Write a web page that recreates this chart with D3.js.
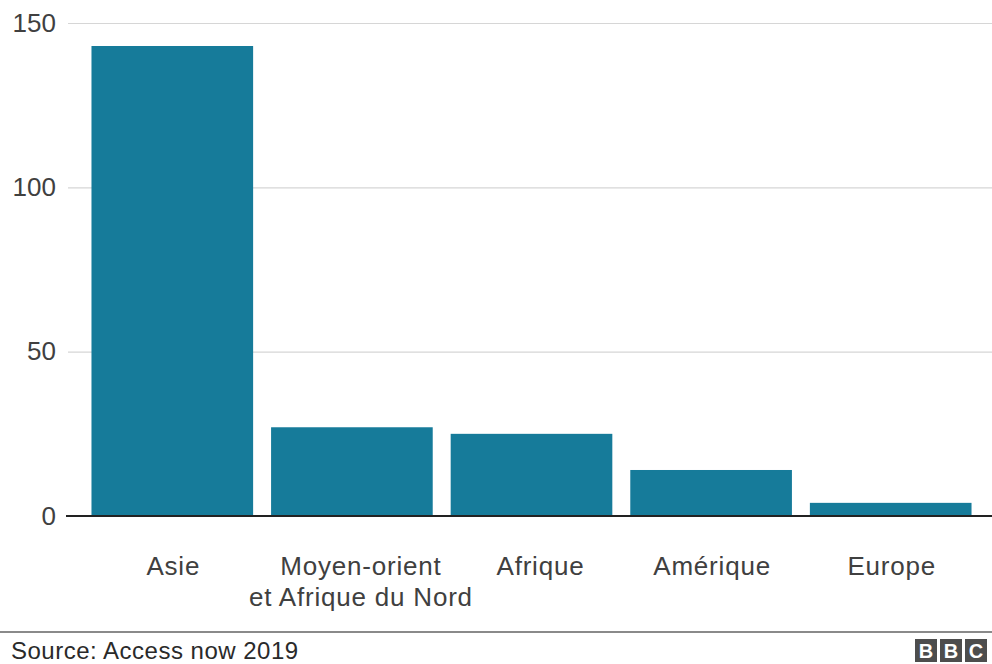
<!DOCTYPE html>
<html>
<head>
<meta charset="utf-8">
<script src="https://cdn.jsdelivr.net/npm/d3@7"></script>
<style>
  body { margin: 0; background: #fff; }
  svg { display: block; font-family: "Liberation Sans", Arial, Helvetica, sans-serif; }
</style>
</head>
<body>
<div id="chart"></div>
<script>
// Data
const regions = ["Asie", "Moyen-orient\net Afrique du Nord", "Afrique", "Amérique", "Europe"];
const shutdowns = [143, 27, 25, 14, 4];
const yTicks = [0, 50, 100, 150];
const sourceText = "Source: Access now 2019";

const width = 992;
const height = 664;

const svg = d3.select("#chart")
  .append("svg")
  .attr("width", width)
  .attr("height", height);

// scales
const x = d3.scaleBand()
  .domain(regions)
  .range([82.5, 980.5])
  .paddingInner(0.1)
  .paddingOuter(0.05);

const y = d3.scaleLinear()
  .domain([0, 150])
  .range([516, 23]);

// gridlines + tick labels
const yAxis = svg.append("g")
  .attr("transform", "translate(68,0)")
  .call(d3.axisLeft(y).tickValues(yTicks).tickSize(-(width - 68)).tickPadding(12));

yAxis.select(".domain").remove();
yAxis.selectAll(".tick line")
  .attr("stroke", "#d6d6d6")
  .attr("stroke-width", 1.2);
yAxis.selectAll(".tick text")
  .attr("fill", "#404040")
  .style("font-size", "26px");

// bars
svg.selectAll("rect.bar")
  .data(shutdowns)
  .enter()
  .append("rect")
  .attr("class", "bar")
  .attr("x", (d, i) => x(regions[i]))
  .attr("y", d => y(d))
  .attr("width", x.bandwidth())
  .attr("height", d => y(0) - y(d))
  .attr("fill", "#167b9a");

// zero line
svg.append("line")
  .attr("x1", 66)
  .attr("x2", width)
  .attr("y1", y(0))
  .attr("y2", y(0))
  .attr("stroke", "#222")
  .attr("stroke-width", 2);

// category labels (can be two lines)
const labels = svg.append("g");
regions.forEach((r, i) => {
  // the two middle labels sit a little right of their bars in the original
  const shift = (i === 1 || i === 2) ? 9 : 1;
  const cx = x(r) + x.bandwidth() / 2 + shift;
  const t = labels.append("text")
    .attr("x", cx)
    .attr("y", 575)
    .attr("text-anchor", "middle")
    .attr("fill", "#404040")
    .style("font-size", "26px")
    .style("letter-spacing", "0.8px");
  r.split("\n").forEach((line, j) => {
    t.append("tspan")
      .attr("x", cx)
      .attr("dy", j === 0 ? 0 : 31)
      .text(line);
  });
});

// footer
svg.append("line")
  .attr("x1", 0)
  .attr("x2", width)
  .attr("y1", 632)
  .attr("y2", 632)
  .attr("stroke", "#8a8a8a")
  .attr("stroke-width", 2);

svg.append("text")
  .attr("x", 11)
  .attr("y", 659)
  .attr("fill", "#2a2a2a")
  .style("font-size", "24px")
  .style("letter-spacing", "0.5px")
  .text(sourceText);

// BBC blocks
const logo = svg.append("g").attr("transform", "translate(915,639)");
["B", "B", "C"].forEach((c, i) => {
  logo.append("rect")
    .attr("x", i * 25)
    .attr("y", 0)
    .attr("width", 22)
    .attr("height", 23)
    .attr("fill", "#4d4d4d");
  logo.append("text")
    .attr("x", i * 25 + 11)
    .attr("y", 19)
    .attr("text-anchor", "middle")
    .attr("fill", "#fff")
    .style("font-size", "20px")
    .style("font-weight", "bold")
    .text(c);
});
</script>
</body>
</html>
